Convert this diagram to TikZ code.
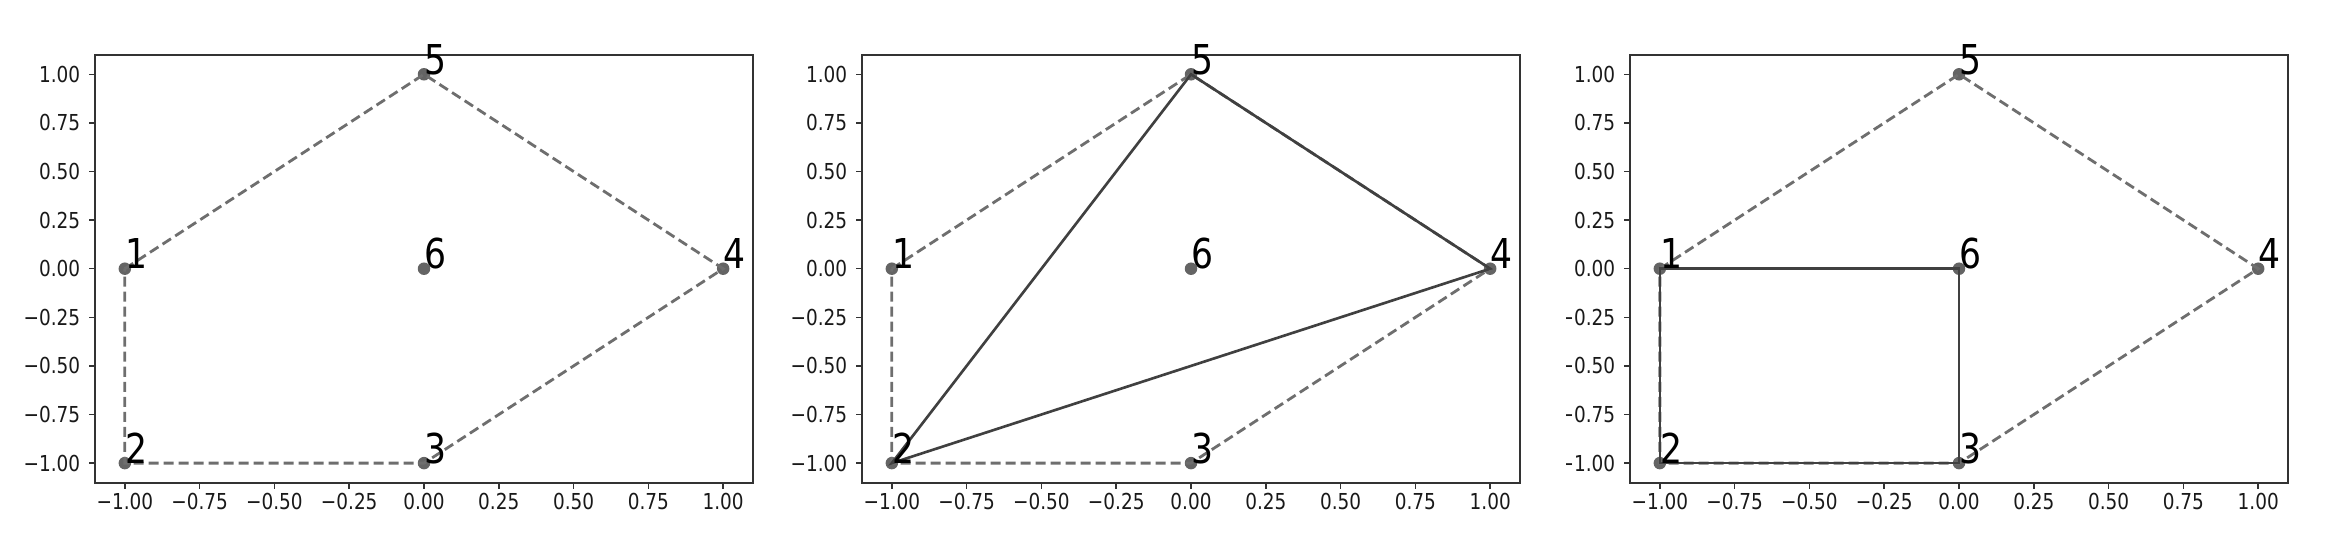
\documentclass[tikz,border=0pt]{standalone}
\usepackage{fontspec}
\setmainfont{DejaVu Sans}
\usepackage{graphicx}
\definecolor{ptc}{HTML}{646464}
\definecolor{dashc}{HTML}{6E6E6E}
\definecolor{solc}{HTML}{404040}
\definecolor{framec}{HTML}{333333}
\newcommand\sqz[1]{\scalebox{0.84}[1]{#1}}
\newcommand\drawpanel[3]{%
\begin{scope}[shift={(#2,268.7)},x=2.99cm,y=1.943cm]
  \draw[frame] (-1.1,-1.1) rectangle (1.1,1.1);
  \foreach \v/\t [count=\i] in {-1/−1.00,-0.75/−0.75,-0.5/−0.50,-0.25/−0.25,0/0.00,0.25/0.25,0.5/0.50,0.75/0.75,1/1.00}{
    \draw[tk] (\v,-1.1) -- ++(0,-0.06cm);
    \node[xtl] (#1x\i) at (\v,-1.1) {\sqz{\t}};
    \draw[tk] (-1.1,\v) -- ++(-0.06cm,0);
    \node[ytl] (#1y\i) at (-1.1,\v) {\sqz{\t}};
  }
  \coordinate (#11) at (-1,0);
  \coordinate (#12) at (-1,-1);
  \coordinate (#13) at (0,-1);
  \coordinate (#14) at (1,0);
  \coordinate (#15) at (0,1);
  \coordinate (#16) at (0,0);
  \foreach \k in {1,...,6}{
    \node[pt] (#1p\k) at (#1\k) {};
  }
  \draw[dsh] (#11) -- (#15) -- (#14) -- (#13) -- (#12) -- cycle;
  #3
  \foreach \k in {1,...,6}{
    \node[lab] (#1l\k) at (#1\k) {\sqz{\k}};
  }
\end{scope}}
\begin{document}
\begin{tikzpicture}[x=0.01cm,y=-0.01cm,
  pt/.style={circle,fill=ptc,inner sep=0,minimum size=0.125cm},
  lab/.style={anchor=base west,inner sep=0,font=\fontsize{11.7}{12}\selectfont},
  dsh/.style={draw=dashc,line width=0.8pt,dash pattern=on 0.1cm off 0.05cm},
  sol/.style={draw=solc,line width=0.75pt},
  frame/.style={draw=framec,line width=0.6pt},
  tk/.style={draw=framec,line width=0.45pt},
  xtl/.style={anchor=base,inner sep=0,text=black!90,font=\fontsize{6.25}{7}\selectfont,yshift=-0.267cm},
  ytl/.style={anchor=east,inner sep=0,text=black!90,font=\fontsize{6.25}{7}\selectfont,xshift=-0.14cm},
]
\useasboundingbox (0,0) rectangle (2334,536);
\drawpanel{a}{424}{}
\drawpanel{b}{1191}{\draw[sol] (b2) -- (b5) -- (b4) -- cycle;}
\begin{scope}
  \clip (1566,0) rectangle (2334,536);
  \drawpanel{c}{1959}{\draw[sol] (c1) -- (c6) -- (c3) -- (c2) -- cycle;}
\end{scope}
\end{tikzpicture}
\end{document}
